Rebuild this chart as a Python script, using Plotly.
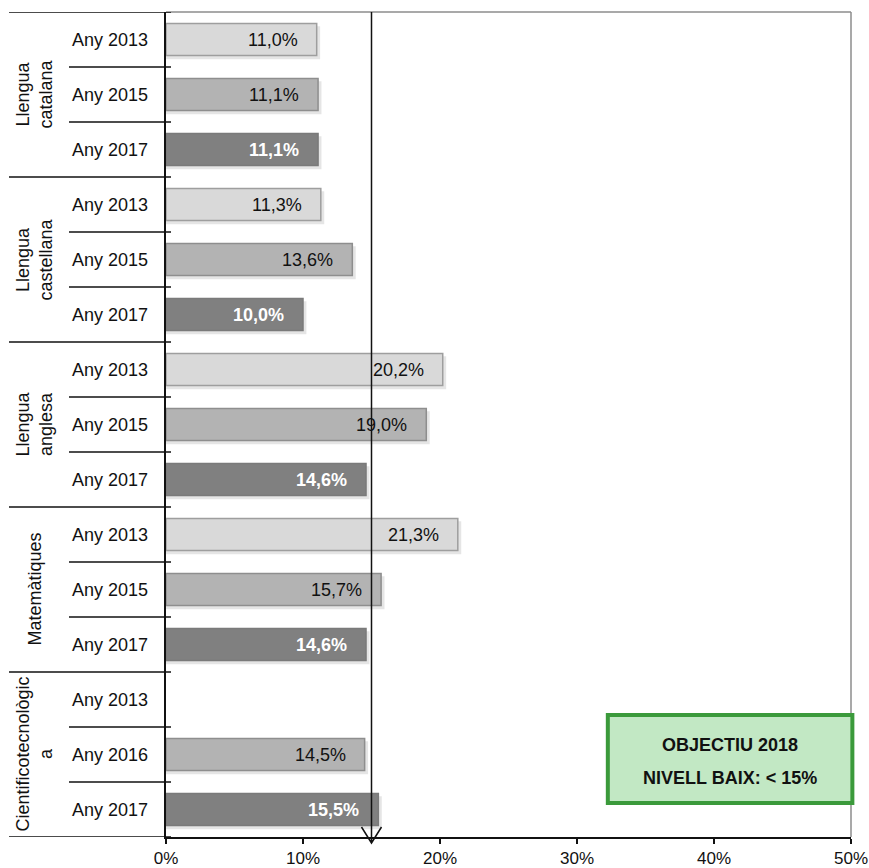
import plotly.graph_objects as go

groups = ["Llengua<br>catalana", "Llengua<br>castellana", "Llengua<br>anglesa",
          "Matemàtiques", "Cientificotecnològic<br>a"]
row_labels = ["Any 2013", "Any 2015", "Any 2017",
              "Any 2013", "Any 2015", "Any 2017",
              "Any 2013", "Any 2015", "Any 2017",
              "Any 2013", "Any 2015", "Any 2017",
              "Any 2013", "Any 2016", "Any 2017"]
values = [11.0, 11.1, 11.1,
          11.3, 13.6, 10.0,
          20.2, 19.0, 14.6,
          21.3, 15.7, 14.6,
          None, 14.5, 15.5]
year_kind = [0, 1, 2] * 5
objective = 15
x_ticks = [0, 10, 20, 30, 40, 50]

fills = ["#d9d9d9", "#b3b3b3", "#808080"]
borders = ["#9e9e9e", "#8e8e8e", "#7a7a7a"]

ypos = list(range(len(values)))
FONT = "Liberation Sans, Arial, sans-serif"

fig = go.Figure()

# shadows
fig.add_trace(go.Bar(
    x=[(v + 0.25) if v is not None else None for v in values],
    y=[p + 0.06 for p in ypos], orientation="h", width=0.6,
    marker=dict(color="rgba(0,0,0,0.10)", line=dict(width=0)),
    hoverinfo="skip", showlegend=False))
fig.add_trace(go.Bar(
    x=values, y=ypos, orientation="h", width=0.58,
    marker=dict(color=[fills[k] for k in year_kind],
                line=dict(color=[borders[k] for k in year_kind], width=1.5)),
    showlegend=False))

ann = []
for i, v in enumerate(values):
    if v is None:
        continue
    dark = year_kind[i] == 2
    ann.append(dict(x=v, y=i, xref="x", yref="y", xanchor="right", yanchor="middle",
                    xshift=-17, showarrow=False,
                    text=("<b>%s%%</b>" if dark else "%s%%") % f"{v:.1f}".replace(".", ","),
                    font=dict(family=FONT, size=18, color="white" if dark else "#111111")))
for i, lab in enumerate(row_labels):
    ann.append(dict(x=-16 / 685, y=i, xref="paper", yref="y", xanchor="right",
                    yanchor="middle", showarrow=False, text=lab,
                    font=dict(family=FONT, size=18, color="#111111")))
for g, name in enumerate(groups):
    ann.append(dict(x=-132 / 685, y=g * 3 + 1, xref="paper", yref="y", xanchor="center",
                    yanchor="middle", showarrow=False, text=name, textangle=-90,
                    font=dict(family=FONT, size=18, color="#111111")))

# objective box
ann.append(dict(x=0.8235, y=0.1115, xref="paper", yref="paper", showarrow=False,
                xanchor="center", yanchor="middle",
                text="<b>OBJECTIU 2018</b>", font=dict(family=FONT, size=18, color="#111111")))
ann.append(dict(x=0.8235, y=0.0715, xref="paper", yref="paper", showarrow=False,
                xanchor="center", yanchor="middle",
                text="<b>NIVELL BAIX: < 15%</b>", font=dict(family=FONT, size=18, color="#111111")))

shapes = []
# plot border top & right (gray)
shapes.append(dict(type="line", xref="paper", yref="paper", x0=0, x1=1, y0=1, y1=1,
                   line=dict(color="#8c8c8c", width=1.5)))
shapes.append(dict(type="line", xref="paper", yref="paper", x0=1, x1=1, y0=0, y1=1,
                   line=dict(color="#8c8c8c", width=1.5)))
# row separators / category ticks
n = len(values)
for b in range(n + 1):
    yb = b - 0.5
    x0 = -157 / 685 if b % 3 == 0 else -97 / 685
    shapes.append(dict(type="line", xref="paper", yref="y", x0=x0, x1=5 / 685, y0=yb, y1=yb,
                       line=dict(color="#111111", width=1.5)))
# objective line with arrow
shapes.append(dict(type="line", xref="x", yref="paper", x0=objective, x1=objective, y0=0, y1=1,
                   line=dict(color="#111111", width=1.5)))
shapes.append(dict(type="path", xref="x", yref="paper", xsizemode="pixel", ysizemode="pixel",
                   xanchor=objective, yanchor=0,
                   path="M 0,0 L 0,-6 M -10,10 L 0,-6 L 10,10",
                   line=dict(color="#111111", width=1.5)))
# box
shapes.append(dict(type="rect", xref="paper", yref="paper", x0=0.645, x1=1.002,
                   y0=0.0412, y1=0.1479, fillcolor="#c2e8c4",
                   line=dict(color="#3b9a3b", width=4)))

fig.update_layout(
    width=869, height=868, barmode="overlay",
    margin=dict(l=166, r=18, t=12, b=31, autoexpand=False),
    paper_bgcolor="white", plot_bgcolor="white",
    annotations=ann, shapes=shapes,
    font=dict(family=FONT, size=18, color="#111111"),
    xaxis=dict(range=[0, 50], tickvals=x_ticks, ticktext=[f"{t}%" for t in x_ticks],
               showgrid=False,
               zeroline=False, showline=True, linecolor="#111111", linewidth=1.5,
               ticks="outside", ticklen=5, tickwidth=1.5, tickcolor="#111111",
               ticklabelstandoff=0, tickfont=dict(family=FONT, size=17, color="#111111")),
    yaxis=dict(range=[n - 0.5, -0.5], showticklabels=False, showgrid=False, zeroline=False,
               showline=True, linecolor="#111111", linewidth=1.5, ticks=""),
)
fig.write_html("out.html", config={"displayModeBar": False},
               post_script="document.body.style.margin='0';document.body.style.padding='0';")
